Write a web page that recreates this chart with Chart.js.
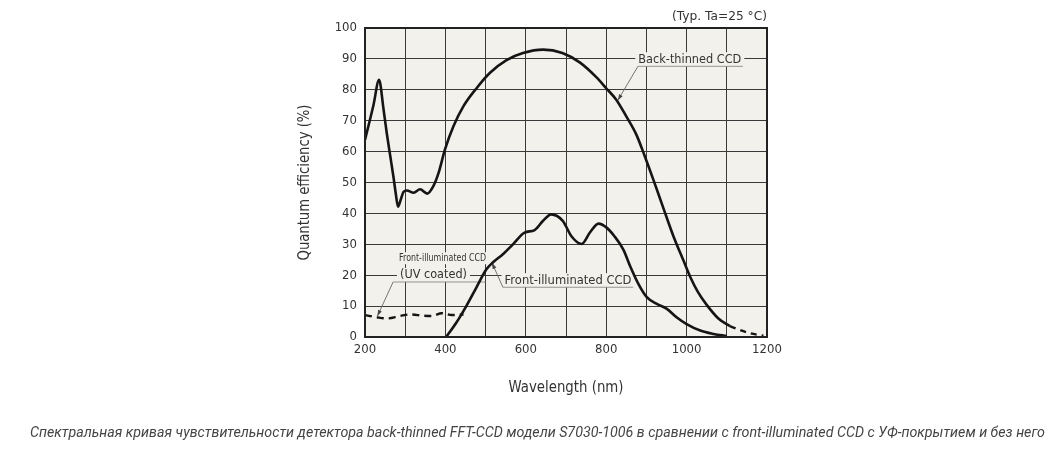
<!DOCTYPE html>
<html><head><meta charset="utf-8">
<script src="https://cdn.jsdelivr.net/npm/chart.js@4/dist/chart.umd.min.js"></script>
<style>html,body{margin:0;padding:0;background:#fff;overflow:hidden}</style>
</head><body>
<canvas id="c" width="1059" height="452"></canvas>
<script>
// ---- data ----
const backNm  = [200, 221, 235, 246, 254, 263, 271, 277, 282, 289, 296, 304, 321, 337, 355, 370, 383, 399, 420, 445, 478, 511, 552, 593, 643, 691, 735, 776, 800, 825, 850, 875, 896, 917, 942, 967, 992, 1010, 1028, 1050, 1079, 1108];
const backQE  = [63.8, 75, 83.2, 73.8, 66.1, 58.4, 51.6, 46, 42.2, 44.5, 47, 47.4, 46.7, 47.8, 46.4, 48.8, 53.1, 60.7, 68.2, 74.7, 80.6, 85.5, 89.6, 91.9, 93, 91.9, 88.8, 84, 80.5, 76.8, 71.4, 65.5, 58.5, 51, 41.8, 32.7, 24.8, 19.2, 14.6, 10.4, 6.0, 3.5];
const backTailNm = [1108, 1125, 1158, 1191];
const backTailQE = [3.5, 2.6, 1.2, 0.4];
const frontNm = [402, 427, 452, 477, 502, 518, 543, 568, 597, 622, 643, 663, 692, 713, 739, 760, 781, 801, 820, 843, 859, 880, 901, 926, 951, 975, 1000, 1034, 1067, 1100];
const frontQE = [0, 4.6, 10, 16, 21.9, 24.1, 26.8, 30, 33.8, 34.6, 37.6, 39.7, 37.6, 32.7, 30.1, 33.9, 36.7, 35.4, 32.7, 28.2, 23.1, 17.2, 12.9, 10.7, 9.1, 6.4, 4.2, 2.1, 1.0, 0.3];
const uvNm = [200, 229, 254, 287, 312, 345, 366, 391, 416, 445];
const uvQE = [7.1, 6.4, 6.0, 6.8, 7.3, 6.9, 6.8, 7.7, 7.1, 7.3];
const xTicks = [200, 300, 400, 500, 600, 700, 800, 900, 1000, 1100, 1200];
const yTicks = [0, 10, 20, 30, 40, 50, 60, 70, 80, 90, 100];
const xTickLabels = ['200', '', '400', '', '600', '', '800', '', '1000', '', '1200'];
const yTickLabels = ['0', '10', '20', '30', '40', '50', '60', '70', '80', '90', '100'];
const xTitle = 'Wavelength (nm)';
const yTitle = 'Quantum efficiency (%)';
const condText = '(Typ. Ta=25 °C)';
const labelBack = 'Back-thinned CCD';
const labelFront = 'Front-illuminated CCD';
const labelUV1 = 'Front-illuminated CCD';
const labelUV2 = '(UV coated)';
const caption = 'Спектральная кривая чувствительности детектора back-thinned FFT-CCD модели S7030-1006 в сравнении с front-illuminated CCD с УФ-покрытием и без него';

const pts = (xs, ys) => xs.map((x, i) => ({x: x, y: ys[i]}));
const PLOT_BG = '#f2f1ec';
const INK = '#151515';

function fitText(ctx, text, x, y, w, font, color, align) {
  ctx.save();
  ctx.font = font; ctx.fillStyle = color; ctx.textBaseline = 'middle'; ctx.textAlign = align;
  const m = ctx.measureText(text).width;
  ctx.translate(x, y); ctx.scale(w / m, 1);
  ctx.fillText(text, 0, 0);
  ctx.restore();
}
function boxText(ctx, text, x, y, w, h, font, align) {
  ctx.save();
  ctx.fillStyle = PLOT_BG;
  const left = align === 'center' ? x - w / 2 : (align === 'right' ? x - w : x);
  ctx.fillRect(left - 3, y - h / 2, w + 6, h);
  ctx.restore();
  fitText(ctx, text, x, y, w, font, '#333', align);
}
function leader(ctx, x1, y1, x2, y2) {
  ctx.save();
  ctx.strokeStyle = '#666'; ctx.lineWidth = 0.9;
  ctx.beginPath(); ctx.moveTo(x1, y1); ctx.lineTo(x2, y2); ctx.stroke();
  const a = Math.atan2(y2 - y1, x2 - x1);
  ctx.fillStyle = '#444';
  ctx.beginPath();
  ctx.moveTo(x2, y2);
  ctx.lineTo(x2 - 6 * Math.cos(a) + 2 * Math.sin(a), y2 - 6 * Math.sin(a) - 2 * Math.cos(a));
  ctx.lineTo(x2 - 6 * Math.cos(a) - 2 * Math.sin(a), y2 - 6 * Math.sin(a) + 2 * Math.cos(a));
  ctx.closePath(); ctx.fill();
  ctx.restore();
}
function hline(ctx, x1, x2, y) {
  ctx.save(); ctx.strokeStyle = '#8a8a8a'; ctx.lineWidth = 0.9;
  ctx.beginPath(); ctx.moveTo(x1, y); ctx.lineTo(x2, y); ctx.stroke(); ctx.restore();
}

const overlay = {
  id: 'overlay',
  beforeDraw(chart) {
    const {ctx, chartArea: a} = chart;
    ctx.save();
    ctx.fillStyle = '#fff'; ctx.fillRect(0, 0, chart.width, chart.height);
    ctx.fillStyle = PLOT_BG; ctx.fillRect(a.left, a.top, a.right - a.left, a.bottom - a.top);
    ctx.restore();
  },
  beforeDatasetsDraw(chart) {
    const {ctx} = chart;
    const X = v => chart.scales.x.getPixelForValue(v);
    const Y = v => chart.scales.y.getPixelForValue(v);
    // Back-thinned label
    boxText(ctx, labelBack, X(1008), Y(89.9), 103, 14, '13px "DejaVu Sans"', 'center');
    hline(ctx, X(879), X(1140), Y(87.6));
    leader(ctx, X(879), Y(87.6), X(829), Y(76.6));
    // Front-illuminated label
    boxText(ctx, labelFront, X(705), Y(18.4), 127, 14, '13px "DejaVu Sans"', 'center');
    hline(ctx, X(543), X(867), Y(16.1));
    leader(ctx, X(543), Y(16.1), X(516), Y(24.0));
    // UV coated label
    boxText(ctx, labelUV1, X(393), Y(25.5), 87, 12, '11px "DejaVu Sans"', 'center');
    boxText(ctx, labelUV2, X(287), Y(20.1), 67, 14, '13px "DejaVu Sans"', 'left');
    hline(ctx, X(270), X(499), Y(17.8));
    leader(ctx, X(270), Y(17.8), X(231), Y(6.8));
  },
  afterDraw(chart) {
    const {ctx, chartArea: a} = chart;
    ctx.save();
    ctx.strokeStyle = '#222'; ctx.lineWidth = 2;
    ctx.strokeRect(a.left, a.top, a.right - a.left, a.bottom - a.top);
    ctx.restore();
    fitText(ctx, condText, a.right, 17, 95, '13px "DejaVu Sans"', '#333', 'right');
    fitText(ctx, xTitle, (a.left + a.right) / 2, 388, 115, '15px "DejaVu Sans"', '#333', 'center');
    ctx.save();
    ctx.translate(305, (a.top + a.bottom) / 2);
    ctx.rotate(-Math.PI / 2);
    fitText(ctx, yTitle, 0, 0, 156, '15px "DejaVu Sans"', '#333', 'center');
    ctx.restore();
    fitText(ctx, caption, 537.5, 433, 1015, 'italic 15px Roboto', '#444', 'center');
  }
};

new Chart(document.getElementById('c'), {
  type: 'line',
  data: {
    datasets: [
      {label: labelBack, data: pts(backNm, backQE), borderColor: INK, borderWidth: 2.6, pointRadius: 0, cubicInterpolationMode: 'monotone'},
      {label: labelBack + ' tail', data: pts(backTailNm, backTailQE), borderColor: INK, borderWidth: 2.4, pointRadius: 0, borderDash: [6, 5], cubicInterpolationMode: 'monotone'},
      {label: labelFront, data: pts(frontNm, frontQE), borderColor: INK, borderWidth: 2.6, pointRadius: 0, cubicInterpolationMode: 'monotone'},
      {label: labelUV1 + ' ' + labelUV2, data: pts(uvNm, uvQE), borderColor: INK, borderWidth: 2.4, pointRadius: 0, borderDash: [7, 5], cubicInterpolationMode: 'monotone'}
    ]
  },
  options: {
    responsive: false,
    animation: false,
    devicePixelRatio: 1,
    layout: {padding: {top: 28, right: 292, bottom: 0, left: 0}},
    plugins: {legend: {display: false}, tooltip: {enabled: false}},
    scales: {
      x: {
        type: 'linear', min: 200, max: 1200,
        afterBuildTicks: s => { s.ticks = xTicks.map(v => ({value: v})); },
        afterFit: s => { s.height = 115; },
        grid: {color: '#3a3a3a', lineWidth: 1, drawTicks: false},
        border: {display: false},
        ticks: {
          padding: 5, color: '#333', maxRotation: 0, autoSkip: false,
          font: {family: '"DejaVu Sans Condensed", "DejaVu Sans"', size: 13},
          callback: (v) => { const i = xTicks.indexOf(v); return i >= 0 ? xTickLabels[i] : ''; }
        }
      },
      y: {
        type: 'linear', min: 0, max: 100,
        afterBuildTicks: s => { s.ticks = yTicks.map(v => ({value: v})); },
        afterFit: s => { s.width = 365; },
        grid: {color: '#3a3a3a', lineWidth: 1, drawTicks: false},
        border: {display: false},
        ticks: {
          padding: 8, color: '#333',
          font: {family: '"DejaVu Sans Condensed", "DejaVu Sans"', size: 13},
          callback: (v) => { const i = yTicks.indexOf(v); return i >= 0 ? yTickLabels[i] : ''; }
        }
      }
    }
  },
  plugins: [overlay]
});
</script>
</body></html>
